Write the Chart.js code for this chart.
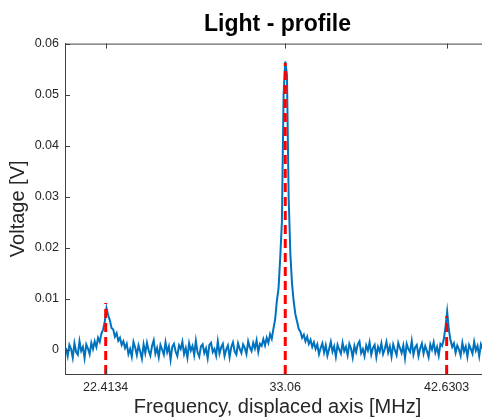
<!DOCTYPE html>
<html>
<head>
<meta charset="utf-8">
<script src="https://cdn.jsdelivr.net/npm/chart.js@4/dist/chart.umd.min.js"></script>
<style>
  html, body { margin: 0; padding: 0; background: #fff; overflow: hidden; }
  #wrap { width: 490px; height: 419px; position: relative; }
</style>
</head>
<body>
<div id="wrap"><canvas id="graf"></canvas></div>
<script>
// ---- data ----
// sampling grid of the trace (MHz)
const FREQ_START = 20.06;
const FREQ_STEP = 0.1;

// measured voltage [V], one value per sample
const VOLTAGE = [
    0.0004, -0.0012, 0.0010, 0.0002, -0.0015, 0.0013, -0.0004, -0.0009, 0.0017, -0.0002,
    0.0006, -0.0016, 0.0011, 0.0003, -0.0008, 0.0014,
    0.0002, 0.0017, 0.0006, 0.0024, 0.0016, 0.0032, 0.0040, 0.0056, 0.0082, 0.0068,
    0.0058, 0.0043, 0.0040, 0.0026, 0.0033, 0.0018, 0.0024, 0.0010, 0.0017, 0.0004,
    0.0012, -0.0008, 0.0002, -0.0013, 0.0016, 0.0005, -0.0010, 0.0009, -0.0003, -0.0017,
    0.0011, -0.0006, 0.0014, -0.0001, -0.0011, 0.0008, 0.0019, -0.0007, 0.0004, -0.0014,
    0.0010, 0.0001, -0.0009, 0.0015, -0.0004, 0.0007, -0.0019, 0.0006, 0.0012, -0.0003,
    -0.0012, 0.0009, 0.0002, 0.0016, -0.0008, 0.0004, -0.0015, 0.0013, -0.0001, 0.0008,
    -0.0010, 0.0018, -0.0005, -0.0013, 0.0007, 0.0011, -0.0006, 0.0003, -0.0016, 0.0010,
    0.0014, -0.0004, 0.0002, -0.0011, 0.0017, -0.0007, 0.0005, 0.0012, -0.0012, 0.0001,
    0.0009, -0.0014, 0.0006, 0.0015, -0.0003, -0.0009, 0.0013, 0.0002, -0.0006, 0.0011,
    0.0004, -0.0008, 0.0017, 0.0005, -0.0002, 0.0014, 0.0003, 0.0019, -0.0004, 0.0012,
    0.0008, 0.0021,
    0.0009, 0.0024, 0.0014, 0.0031, 0.0022, 0.0042, 0.0060, 0.0095, 0.0120, 0.0180,
    0.0250, 0.0500, 0.0565, 0.0540, 0.0300, 0.0190, 0.0130, 0.0095, 0.0070, 0.0056,
    0.0041, 0.0036, 0.0024, 0.0030, 0.0017, 0.0026, 0.0012, 0.0020, 0.0006, 0.0015,
    0.0002, 0.0011, -0.0008, 0.0004, 0.0013, -0.0005, 0.0009, -0.0011, 0.0002, 0.0016,
    -0.0003, 0.0007, -0.0013, 0.0010, 0.0001, -0.0007, 0.0014, -0.0002, 0.0006, -0.0010,
    0.0012, 0.0003, -0.0015, 0.0008, -0.0004, 0.0011, 0.0017, -0.0006, 0.0002, -0.0012,
    0.0009, -0.0001, 0.0015, -0.0009, 0.0004, 0.0010, -0.0014, 0.0006, -0.0003, 0.0013,
    -0.0008, 0.0002, 0.0016, -0.0005, 0.0007, -0.0013, 0.0011, 0.0000, -0.0010, 0.0014,
    0.0004, -0.0006, 0.0009, -0.0016, 0.0012, 0.0002, -0.0004, 0.0018, -0.0009, 0.0005,
    0.0010, -0.0012, 0.0003, 0.0013, -0.0007, 0.0008, -0.0002, -0.0014, 0.0011, 0.0001,
    0.0015, -0.0005, 0.0006, -0.0011, 0.0012,
    0.0008, 0.0021, 0.0045, 0.0075, 0.0040, 0.0019, 0.0006,
    0.0013, -0.0005, 0.0009, 0.0001, -0.0011, 0.0014, -0.0003, 0.0007, -0.0013, 0.0010,
    0.0002, -0.0007, 0.0016, -0.0001, 0.0008, -0.0012, 0.0011, 0.0003, -0.0006, 0.0013,
    0.0005, -0.0009
];

// red dashed peak markers
const PEAK_FREQS = [22.4134, 33.06, 42.6303];
const PEAK_HEIGHTS = [0.0092, 0.0562, 0.0066];

// axes
const X_TICKS = [22.4134, 33.06, 42.6303];
const X_TICK_LABELS = ['22.4134', '33.06', '42.6303'];
const Y_TICKS = [0, 0.01, 0.02, 0.03, 0.04, 0.05, 0.06];
const Y_TICK_LABELS = ['0', '0.01', '0.02', '0.03', '0.04', '0.05', '0.06'];
const X_MIN = 20, X_MAX = 45.2;
const Y_MIN = -0.0047, Y_MAX = 0.06;
// ---- end of data ----

const AXIS_COLOR = '#404040';
const TEXT_COLOR = '#262626';
const FONT = 'Arial, "Liberation Sans", sans-serif';

const signal = VOLTAGE.map((v, i) => ({ x: FREQ_START + i * FREQ_STEP, y: v }));

const markerSets = PEAK_FREQS.map((f, i) => ({
    data: [{ x: f, y: Y_MIN }, { x: f, y: PEAK_HEIGHTS[i] }],
    borderColor: '#ff0000',
    borderWidth: 3,
    borderDash: [9, 5],
    pointRadius: 0,
    order: 0
}));

// MATLAB style ticks pointing into the box + top edge of the box
const inwardTicks = {
    id: 'inwardTicks',
    afterDraw(chart) {
        const { ctx, chartArea: a, scales: { x, y } } = chart;
        ctx.save();
        ctx.strokeStyle = AXIS_COLOR;
        ctx.lineWidth = 1;
        ctx.beginPath();
        ctx.moveTo(a.left, a.top + 0.5);
        ctx.lineTo(a.right, a.top + 0.5);
        y.ticks.forEach(t => {
            const py = Math.round(y.getPixelForValue(t.value)) + 0.5;
            ctx.moveTo(a.left, py);
            ctx.lineTo(a.left + 5, py);
        });
        x.ticks.forEach(t => {
            const px = Math.round(x.getPixelForValue(t.value)) + 0.5;
            ctx.moveTo(px, a.bottom);
            ctx.lineTo(px, a.bottom - 5);
            ctx.moveTo(px, a.top);
            ctx.lineTo(px, a.top + 5);
        });
        ctx.stroke();
        ctx.restore();
    }
};

new Chart(document.getElementById('graf'), {
    type: 'line',
    data: {
        datasets: [
            ...markerSets,
            {
                data: signal,
                borderColor: '#0072bd',
                borderWidth: 2,
                pointRadius: 0,
                tension: 0,
                order: 1
            }
        ]
    },
    options: {
        responsive: true,
        maintainAspectRatio: false,
        animation: false,
        layout: { padding: 0 },
        plugins: {
            legend: { display: false },
            tooltip: { enabled: false },
            title: {
                display: true,
                fullSize: false,
                text: 'Light - profile',
                color: '#000',
                font: { family: FONT, size: 23, weight: 'bold' },
                padding: { top: 11, bottom: 5 }
            }
        },
        scales: {
            x: {
                type: 'linear',
                min: X_MIN,
                max: X_MAX,
                afterBuildTicks: s => { s.ticks = X_TICKS.map(v => ({ value: v })); },
                afterFit: s => { s.height = 45; },
                grid: { display: false, drawTicks: false },
                border: { display: true, color: AXIS_COLOR, width: 1 },
                ticks: {
                    padding: 6,
                    color: TEXT_COLOR,
                    font: { family: FONT, size: 12.5 },
                    maxRotation: 0,
                    autoSkip: false,
                    callback: v => X_TICK_LABELS[X_TICKS.indexOf(v)]
                },
                title: {
                    display: true,
                    text: 'Frequency, displaced axis [MHz]',
                    color: TEXT_COLOR,
                    font: { family: FONT, size: 20 },
                    padding: { top: 0, bottom: 0 }
                }
            },
            y: {
                min: Y_MIN,
                max: Y_MAX,
                afterBuildTicks: s => { s.ticks = Y_TICKS.map(v => ({ value: v })); },
                afterFit: s => { s.width = 65; },
                grid: { display: false, drawTicks: false },
                border: { display: true, color: AXIS_COLOR, width: 1 },
                ticks: {
                    padding: 6,
                    color: TEXT_COLOR,
                    font: { family: FONT, size: 12.5 },
                    callback: v => Y_TICK_LABELS[Y_TICKS.indexOf(v)]
                },
                title: {
                    display: true,
                    text: 'Voltage [V]',
                    color: TEXT_COLOR,
                    font: { family: FONT, size: 20 },
                    padding: { top: 6, bottom: 0 }
                }
            }
        }
    },
    plugins: [inwardTicks]
});
</script>
</body>
</html>
